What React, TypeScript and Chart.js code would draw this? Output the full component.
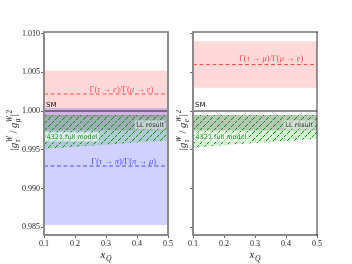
import React, { useEffect, useRef } from 'react';
import { Chart, registerables } from 'chart.js';
Chart.register(...registerables);

// ---------- data ----------
const xEnds = [0.1, 0.5];
const xTickValues = [0.1, 0.2, 0.3, 0.4, 0.5];
const yTickValues = [0.985, 0.99, 0.995, 1.0, 1.005, 1.01];
const yMin = 0.984;
const yMax = 1.0102;

const smLine = [1.0, 1.0];

// left panel: tau->e / mu->e
const tauEUpper = [1.0052, 1.0052];
const tauECentral = [1.0022, 1.0022];
const tauELower = [0.9992, 0.9992];
// left panel: tau->pi / pi->mu
const tauPiUpper = [1.0004, 1.0004];
const tauPiCentral = [0.9929, 0.9929];
const tauPiLower = [0.9853, 0.9853];
// right panel: tau->mu / mu->e
const tauMuUpper = [1.009, 1.009];
const tauMuCentral = [1.006, 1.006];
const tauMuLower = [1.003, 1.003];

// LL result band
const llUpper = [0.9995, 0.9995];
const llLower = [0.9975, 0.9975];

// 4321 full model band
const xModel = [0.1, 0.2, 0.3, 0.4, 0.5];
const modelUpper = [0.9995, 0.9995, 0.9995, 0.9995, 0.9995];
const modelLowerLeft = [0.9951, 0.99538, 0.99566, 0.99593, 0.9962];
const modelLowerRight = [0.9953, 0.99558, 0.99586, 0.99614, 0.99642];

// ---------- styles ----------
const SPINE_GRAY = '#8a8a8a';
const SPINE_DARK = '#333333';
const TICK = '#666666';
const RED_FILL = 'rgba(255,0,0,0.15)';
const RED_LINE = 'rgba(255,70,70,0.95)';
const BLUE_FILL = 'rgba(0,0,255,0.18)';
const BLUE_LINE = 'rgba(70,70,255,0.95)';
const GREEN_FILL = 'rgba(0,160,0,0.16)';
const GRAY_FILL = 'rgba(120,120,120,0.34)';
const HATCH = 'rgba(0,150,0,1)';
const SERIF = '"Liberation Serif", "DejaVu Serif", serif';
const SANS = '"DejaVu Sans", sans-serif';

type Seg = { t: string; it?: boolean; sub?: string; sup?: string; scIt?: boolean };

function drawSegs(ctx: CanvasRenderingContext2D, segs: Seg[], x: number, y: number, size: number, family: string, color: string, align: 'left' | 'center' | 'right') {
  const ss = size * 0.7;
  const mainFont = (it?: boolean) => `${it ? 'italic ' : ''}${size}px ${family}`;
  const scFont = (it?: boolean) => `${it ? 'italic ' : ''}${ss}px ${family}`;
  const widths: number[] = [];
  let total = 0;
  for (const s of segs) {
    ctx.font = mainFont(s.it);
    const w = ctx.measureText(s.t).width;
    let sw = 0;
    ctx.font = scFont(s.scIt !== false);
    if (s.sub) sw = Math.max(sw, ctx.measureText(s.sub).width);
    if (s.sup) sw = Math.max(sw, ctx.measureText(s.sup).width);
    widths.push(w + sw + (sw ? 0.5 : 0));
    total += w + sw + (sw ? 0.5 : 0);
  }
  let cx = align === 'left' ? x : align === 'center' ? x - total / 2 : x - total;
  ctx.fillStyle = color;
  ctx.textAlign = 'left';
  ctx.textBaseline = 'alphabetic';
  segs.forEach((s, i) => {
    ctx.font = mainFont(s.it);
    ctx.fillText(s.t, cx, y);
    const w = ctx.measureText(s.t).width;
    ctx.font = scFont(s.scIt !== false);
    if (s.sub) ctx.fillText(s.sub, cx + w + 0.5, y + size * 0.3);
    if (s.sup) ctx.fillText(s.sup, cx + w + 0.5, y - size * 0.42);
    cx += widths[i];
  });
}

function pts(xs: number[], ys: number[]) {
  return xs.map((x, i) => ({ x, y: ys[i] }));
}
function lineDs(data: any[], color: string, dash: number[], width: number) {
  return { data, borderColor: color, borderWidth: width, borderDash: dash, pointRadius: 0, fill: false, tension: 0 };
}
function upperDs(data: any[], fillColor: any) {
  return { data, borderWidth: 0, borderColor: 'rgba(0,0,0,0)', pointRadius: 0, fill: '+1', backgroundColor: fillColor, tension: 0 };
}
function lowerDs(data: any[]) {
  return { data, borderWidth: 0, borderColor: 'rgba(0,0,0,0)', pointRadius: 0, fill: false, tension: 0 };
}

function makeHatch(ctx: CanvasRenderingContext2D) {
  const s = 7;
  const c = document.createElement('canvas');
  c.width = s;
  c.height = s;
  const g = c.getContext('2d')!;
  g.strokeStyle = HATCH;
  g.lineWidth = 1;
  g.setLineDash([3, 1.2]);
  g.beginPath();
  g.moveTo(0, s);
  g.lineTo(s, 0);
  g.stroke();
  g.setLineDash([]);
  g.beginPath();
  g.moveTo(-2, 2);
  g.lineTo(2, -2);
  g.moveTo(s - 2, s + 2);
  g.lineTo(s + 2, s - 2);
  g.stroke();
  return ctx.createPattern(c, 'repeat');
}

function drawBoxText(ctx: CanvasRenderingContext2D, text: string, x: number, y: number, align: 'left' | 'right', color: string, box: string) {
  ctx.font = `6.5px ${SANS}`;
  const w = ctx.measureText(text).width;
  const left = align === 'left' ? x : x - w;
  ctx.fillStyle = box;
  ctx.fillRect(left - 1.5, y - 4.5, w + 3, 9);
  ctx.fillStyle = color;
  ctx.textAlign = 'left';
  ctx.textBaseline = 'middle';
  ctx.fillText(text, left, y + 0.3);
}

function buildChart(canvas: HTMLCanvasElement, right: boolean) {
  const ctx = canvas.getContext('2d')!;
  const hatch = makeHatch(ctx);
  const bandUp = right ? tauMuUpper : tauEUpper;
  const bandMid = right ? tauMuCentral : tauECentral;
  const bandLo = right ? tauMuLower : tauELower;
  const modelLower = right ? modelLowerRight : modelLowerLeft;

  const datasets: any[] = [
    lineDs(pts(xEnds, smLine), '#222', [], 1),
    lineDs(pts(xEnds, bandMid), RED_LINE, [4, 2.5], 1),
  ];
  if (!right) datasets.push(lineDs(pts(xEnds, tauPiCentral), BLUE_LINE, [4, 2.5], 1));
  datasets.push(upperDs(pts(xModel, modelUpper), hatch));
  datasets.push(lowerDs(pts(xModel, modelLower)));
  datasets.push(upperDs(pts(xEnds, llUpper), GRAY_FILL));
  datasets.push(lowerDs(pts(xEnds, llLower)));
  datasets.push(upperDs(pts(xModel, modelUpper), GREEN_FILL));
  datasets.push(lowerDs(pts(xModel, modelLower)));
  if (!right) {
    datasets.push(upperDs(pts(xEnds, tauPiUpper), BLUE_FILL));
    datasets.push(lowerDs(pts(xEnds, tauPiLower)));
  }
  datasets.push(upperDs(pts(xEnds, bandUp), RED_FILL));
  datasets.push(lowerDs(pts(xEnds, bandLo)));

  const redSegs: Seg[] = right
    ? [{ t: 'Γ(' }, { t: 'τ', it: true }, { t: ' → ' }, { t: 'μ', it: true }, { t: ')/Γ(' }, { t: 'μ', it: true }, { t: ' → ' }, { t: 'e', it: true }, { t: ')' }]
    : [{ t: 'Γ(' }, { t: 'τ', it: true }, { t: ' → ' }, { t: 'e', it: true }, { t: ')/Γ(' }, { t: 'μ', it: true }, { t: ' → ' }, { t: 'e', it: true }, { t: ')' }];
  const blueSegs: Seg[] = [{ t: 'Γ(' }, { t: 'τ', it: true }, { t: ' → ' }, { t: 'π', it: true }, { t: ')/Γ(' }, { t: 'π', it: true }, { t: ' → ' }, { t: 'μ', it: true }, { t: ')' }];
  const yTitle: Seg[] = [
    { t: '|' },
    { t: 'g', it: true, sub: 'τ', sup: 'W' },
    { t: ' / ' },
    { t: 'g', it: true, sub: right ? 'e' : 'μ', sup: 'W' },
    { t: '|', sup: '2', scIt: false },
  ];

  const framePlugin = {
    id: 'frame',
    afterDraw(chart: any) {
      const { ctx: c, chartArea: a, scales } = chart;
      c.save();
      const seg = (x1: number, y1: number, x2: number, y2: number, col: string, w: number) => {
        c.strokeStyle = col;
        c.lineWidth = w;
        c.beginPath();
        c.moveTo(x1, y1);
        c.lineTo(x2, y2);
        c.stroke();
      };
      // spines
      seg(a.left - 1, a.top, a.right + 1, a.top, SPINE_DARK, 1);
      seg(a.left, a.top, a.left, a.bottom + 1, SPINE_GRAY, 2);
      seg(a.left - 1, a.bottom, a.right + 1, a.bottom, SPINE_GRAY, 2);
      seg(a.right, a.top, a.right, a.bottom + 1, right ? SPINE_DARK : SPINE_GRAY, right ? 1 : 2);
      const xs = scales.x;
      const ys = scales.y;
      // text labels
      c.font = `7px ${SANS}`;
      c.fillStyle = '#111';
      c.textAlign = 'left';
      c.textBaseline = 'middle';
      c.fillText('SM', xs.getPixelForValue(0.1) + 2, ys.getPixelForValue(1.00078));
      drawSegs(c, redSegs, xs.getPixelForValue(right ? 0.352 : 0.35), ys.getPixelForValue(right ? 1.0068 : 1.0029) + 3, 8.5, SERIF, RED_LINE, 'center');
      if (!right) drawSegs(c, blueSegs, xs.getPixelForValue(0.357), ys.getPixelForValue(0.9935) + 3, 8.5, SERIF, BLUE_LINE, 'center');
      drawBoxText(c, 'LL result', xs.getPixelForValue(0.5) - 4, ys.getPixelForValue(0.9982), 'right', '#333', 'rgba(255,255,255,0.45)');
      drawBoxText(c, '4321 full model', xs.getPixelForValue(0.1) + 2.5, ys.getPixelForValue(0.99668), 'left', '#1f9a1f', 'rgba(255,255,255,0.6)');
      // y title
      c.save();
      c.translate(right ? 182 - 176 : 13, 130);
      c.rotate(-Math.PI / 2);
      drawSegs(c, yTitle, 0, 3.5, 10.5, SERIF, '#222', 'center');
      c.restore();
      // x title
      const xc = (a.left + a.right) / 2;
      drawSegs(c, [{ t: 'x', it: true, sub: 'Q' }], xc, 258, 11, SERIF, '#222', 'center');
      c.restore();
    },
  };

  return new Chart(canvas, {
    type: 'line',
    data: { datasets },
    options: {
      responsive: false,
      animation: false,
      events: [],
      layout: { padding: { top: 32, right: right ? 35 : 8, left: 0, bottom: 0 } },
      plugins: { legend: { display: false }, tooltip: { enabled: false } },
      scales: {
        x: {
          type: 'linear',
          min: 0.1,
          max: 0.5,
          afterBuildTicks: (s: any) => { s.ticks = xTickValues.map((v) => ({ value: v })); },
          afterFit: (s: any) => { s.height = 29; },
          grid: { display: true, drawOnChartArea: false, drawTicks: true, tickLength: 3, color: TICK, lineWidth: 1 },
          border: { display: false },
          ticks: { callback: (v: any) => Number(v).toFixed(1), font: { family: SERIF, size: 8 }, color: '#222', padding: 1, maxRotation: 0, autoSkip: false },
        },
        y: {
          type: 'linear',
          min: yMin,
          max: yMax,
          afterBuildTicks: (s: any) => { s.ticks = yTickValues.map((v) => ({ value: v })); },
          afterFit: (s: any) => { s.width = right ? 17 : 44; },
          grid: { display: true, drawOnChartArea: false, drawTicks: true, tickLength: 3, color: TICK, lineWidth: 1 },
          border: { display: false },
          ticks: { callback: (v: any) => (right ? '' : Number(v).toFixed(3)), font: { family: SERIF, size: 8 }, color: '#222', padding: 1, autoSkip: false },
        },
      },
    },
    plugins: [framePlugin],
  } as any);
}

function Panel({ right }: { right: boolean }) {
  const ref = useRef<HTMLCanvasElement>(null);
  useEffect(() => {
    const chart = buildChart(ref.current!, right);
    return () => chart.destroy();
  }, [right]);
  return <canvas ref={ref} width={176} height={264} style={{ position: 'absolute', left: right ? 176 : 0, top: 0, width: 176, height: 264, display: 'block' }} />;
}

export default function App() {
  return (
    <div style={{ position: 'absolute', left: 0, top: 0, width: 352, height: 264, background: '#fff' }}>
      <Panel right={false} />
      <Panel right={true} />
    </div>
  );
}
